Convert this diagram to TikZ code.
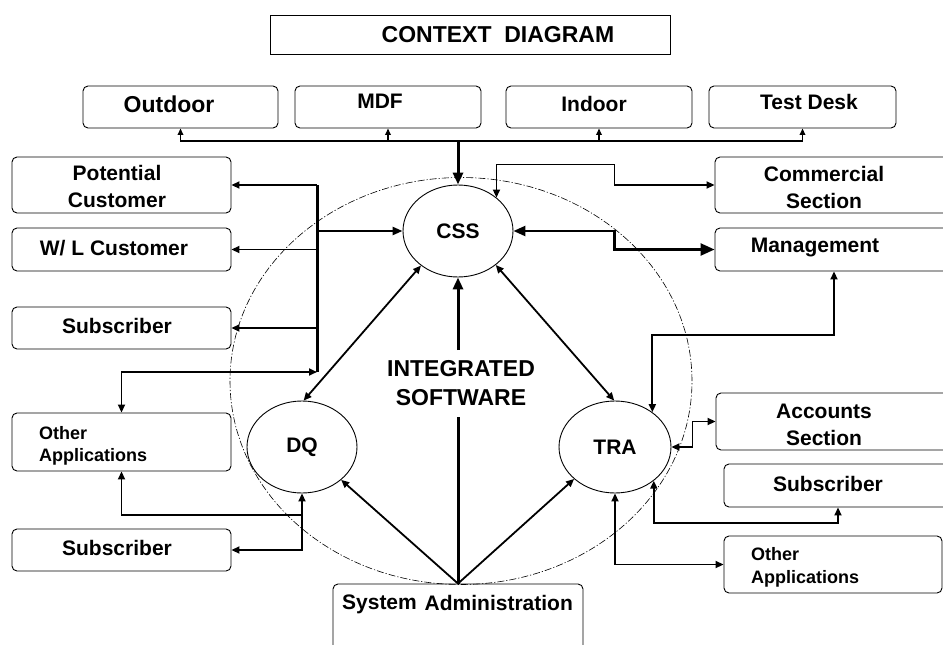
\documentclass[tikz,border=0pt]{standalone}
\usepackage{fontspec}
\setmainfont{Liberation Sans}
\usetikzlibrary{arrows.meta,shapes.geometric,calc}
\newcommand\labA{\fontsize{21pt}{27pt}\selectfont\bfseries}
\newcommand\labB{\fontsize{23pt}{29pt}\selectfont\bfseries}
\newcommand\labC{\fontsize{18pt}{22.5pt}\selectfont\bfseries}
\begin{document}
\begin{tikzpicture}[x=1pt,y=-1pt,
  box/.style={draw, rounded corners=5pt, line width=0.9pt, inner sep=0pt},
  sqbox/.style={draw, line width=1pt, inner sep=0pt},
  oval/.style={draw, ellipse, line width=0.9pt, inner sep=0pt, font=\labA},
  txt/.style={inner sep=0pt, font=\labA, align=center},
  conn/.style={line width=1.8pt, -{Triangle[length=8pt,width=7pt]}},
  dconn/.style={line width=1.8pt, {Triangle[length=8pt,width=7pt]}-{Triangle[length=8pt,width=7pt]}},
  smallconn/.style={line width=1.7pt, -{Triangle[length=6.5pt,width=5.5pt]}},
  bigconn/.style={line width=2.4pt, -{Triangle[length=10pt,width=8pt]}},
  mgconn/.style={line width=2.4pt, {Triangle[length=12pt,width=10pt]}-{Triangle[length=14pt,width=12pt]}},
  heavyconn/.style={line width=3pt, -{Triangle[length=12pt,width=10pt]}},
  heavy/.style={line width=3pt}
]
\useasboundingbox (0,0) rectangle (943,645);
\clip (0,0) rectangle (943,645);

% boundary of the system
\draw[line width=0.6pt, dash pattern=on 7pt off 2pt on 1.2pt off 2pt]
  (461,381) ellipse [x radius=231pt, y radius=203.5pt];

% title
\node[sqbox, minimum width=400pt, minimum height=39pt] (title) at (470,34.5) {};
\node[txt, font=\labB] (titlet) at (498,35) {CONTEXT\ \ DIAGRAM};

% top boxes
\node[box, minimum width=195pt, minimum height=42pt] (outdoor) at (180.5,107) {};
\node[box, minimum width=186pt, minimum height=42pt] (mdf) at (388,107) {};
\node[box, minimum width=186pt, minimum height=42pt] (indoor) at (599,107) {};
\node[box, minimum width=187pt, minimum height=42pt] (testdesk) at (802.5,107) {};
\node[txt, font=\labB] (outdoort) at (169,104) {Outdoor};
\node[txt] (mdft) at (380,101) {MDF};
\node[txt] (indoort) at (594,104) {Indoor};
\node[txt] (testdeskt) at (809,102) {Test Desk};

% left boxes
\node[box, minimum width=219pt, minimum height=56pt] (potential) at (121.5,185) {};
\node[box, minimum width=219pt, minimum height=43pt] (wl) at (121.5,249.5) {};
\node[box, minimum width=219pt, minimum height=42pt] (subA) at (121.5,328) {};
\node[box, minimum width=219pt, minimum height=58pt] (otherL) at (121.5,442) {};
\node[box, minimum width=219pt, minimum height=42pt] (subB) at (121.5,550) {};
\node[txt] (potentialt) at (117,186) {Potential\\Customer};
\node[txt] (wlt) at (114,248) {W/ L Customer};
\node[txt] (subAt) at (117,326) {Subscriber};
\node[txt, font=\labC, align=left, anchor=west] (otherLt) at (39,446) {Other\\Applications};
\node[txt] (subBt) at (117,548) {Subscriber};

% right boxes
\node[box, minimum width=250pt, minimum height=56pt] (comm) at (840,185) {};
\node[box, minimum width=250pt, minimum height=43pt] (mgmt) at (840,249.5) {};
\node[box, minimum width=249pt, minimum height=57pt] (acc) at (840.5,421.5) {};
\node[box, minimum width=241pt, minimum height=43pt] (subC) at (844.5,485.5) {};
\node[box, minimum width=218pt, minimum height=57pt] (otherR) at (833,564.5) {};
\node[txt] (commt) at (824,187) {Commercial\\Section};
\node[txt] (mgmtt) at (815,247) {Management};
\node[txt] (acct) at (824,425) {Accounts\\Section};
\node[txt] (subCt) at (828,484) {Subscriber};
\node[txt, font=\labC, align=left, anchor=west] (otherRt) at (751,567.5) {Other\\Applications};

% system administration
\node[box, minimum width=250pt, minimum height=120pt] (sysadm) at (458,644) {};
\node[txt] (sysadmt) at (457.5,604) {\raisebox{1.5pt}{System}\hspace{2pt} Administration};

% processes
\node[oval, minimum width=110pt, minimum height=92pt] (css) at (458,231) {CSS};
\node[oval, minimum width=110pt, minimum height=92pt] (dq) at (302,447) {DQ};
\node[oval, minimum width=112pt, minimum height=92pt] (tra) at (615,447) {TRA};

\node[txt, font=\labB] (isw) at (461,383) {INTEGRATED\\SOFTWARE};

% top bus
\coordinate (topbus) at (458,141);
\draw[smallconn] (topbus) -| (outdoor.south);
\draw[smallconn] (topbus) -| (mdf.south);
\draw[smallconn] (topbus) -| (indoor.south);
\draw[smallconn] (topbus) -| (testdesk.south);
\draw[heavyconn] (topbus) -- (css.north);

% left bus
\coordinate (lbt) at (317,185);
\coordinate (lbb) at (317,372);
\draw[heavy] (lbt) -- (lbb);
\draw[conn] (lbt) -- (potential.east);
\draw[conn] (lbt |- wl.east) -- (wl.east);
\draw[conn] (lbt |- subA.east) -- (subA.east);
\draw[bigconn] (lbt |- css.west) -- (css.west);
\draw[dconn] (lbb) -| (otherL.north);

% process links
\draw[dconn] (css.223) -- (dq.88);
\draw[dconn] (css.318) -- (tra.91);
\draw[conn] (sysadm.north) -- (dq.320);
\draw[conn] (sysadm.north) -- (tra.218);
\coordinate (gapb) at (458,417);
\coordinate (gapt) at (458,350);
\draw[heavy] (sysadm.north) -- (gapb);
\draw[heavyconn] (gapt) -- (css.south);

% CSS right side
\draw[dconn] (css.41) -- ++(0,-33) -| ([xshift=-100pt]comm.west) -- (comm.west);
\draw[mgconn] (css.east) -| ([xshift=-100pt]mgmt.west) -- (mgmt.west);

% TRA links
\draw[dconn] (tra.43) -- (tra.43 |- 0,335) -| ([xshift=-6pt]mgmt.south);
\draw[dconn] (tra.east) -| ([xshift=-23pt]acc.west) -- (acc.west);
\draw[dconn] (tra.319) -- (tra.319 |- 0,523) -| ([xshift=-6.5pt]subC.south);
\draw[dconn] (tra.south) |- (otherR.west);

% DQ links
\coordinate (dqj) at (302,515);
\draw[dconn] (dq.south) -- (dqj) -| (otherL.south);
\draw[conn] (dqj) |- (subB.east);
\end{tikzpicture}
\end{document}
